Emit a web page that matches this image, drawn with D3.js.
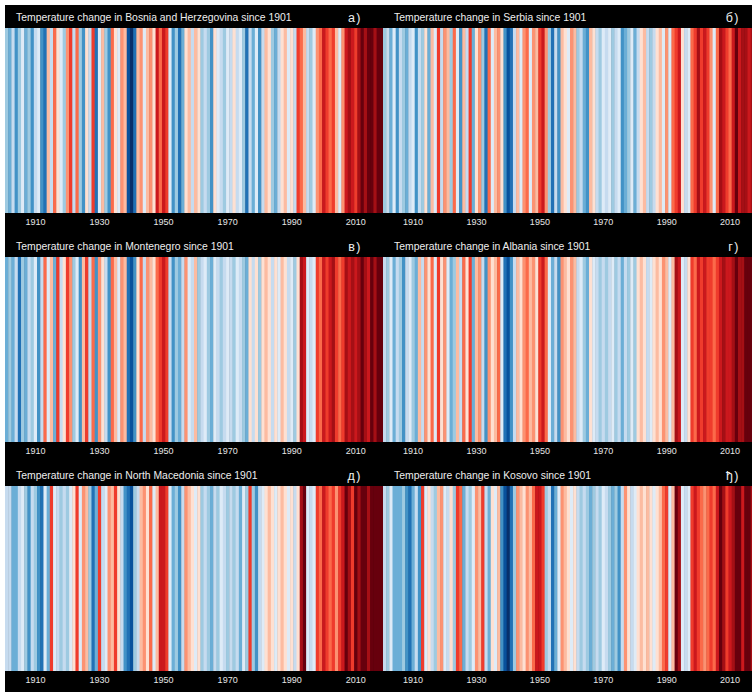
<!DOCTYPE html>
<html>
<head>
<meta charset="utf-8">
<script src="https://cdn.jsdelivr.net/npm/d3@7"></script>
<style>
  body { margin: 0; background: #fff; }
  svg { display: block; }
</style>
</head>
<body>
<div id="stripes"></div>
<script>
// years shown in every panel
const years = d3.range(1901, 2019);
const tickYears = [1910, 1930, 1950, 1970, 1990, 2010];

const countries = ["Bosnia and Herzegovina", "Serbia", "Montenegro", "Albania", "North Macedonia", "Kosovo"];
const letters = ["а)", "б)", "в)", "г)", "д)", "ђ)"];

// classic warming-stripes palette (cold -> warm)
const stripeColors = ["#08306b", "#08519c", "#2171b5", "#4292c6", "#6baed6", "#9ecae1", "#c6dbef", "#deebf7",
                      "#fee0d2", "#fcbba1", "#fc9272", "#fb6a4a", "#ef3b2c", "#cb181d", "#a50f15", "#67000d"];

// annual temperature anomaly (°C), 1901-2018
const bosnia = [
  -0.5,-0.7,-0.3,-0.9,-0.5,-0.1,-0.7,-0.5,-0.9,-0.3,
  -0.1,-0.9,-1.1, 0.3,-0.3, 0.7, 0.1,-0.1,-0.5, 0.5,
   0.9,-0.3, 0.7,-0.5,-0.9, 0.1,-0.3, 0.9,-1.1,-0.1,
   0.3,-0.5,-0.9, 0.7, 0.1,-0.1, 0.5, 0.3,-1.3,-1.5,
  -1.1, 0.3, 0.5,-0.1, 0.3, 0.5, 0.1, 1.1, 0.7, 1.1,
   0.9,-0.1,-0.9,-0.5,-1.1,-0.7, 0.1, 0.3,-0.3, 0.3,
   0.1,-0.5,-0.3,-0.5,-0.9, 0.1,-0.1,-0.3,-0.5,-0.1,
  -0.3, 0.1,-0.3,-0.1,-0.5,-1.1,-0.3,-0.7,-0.1,-0.9,
  -0.3, 0.3, 0.1,-0.5,-0.7,-0.3, 0.1, 0.3,-0.1, 0.1,
  -0.3, 0.9, 0.7, 0.3,-0.3,-0.5,-0.1, 0.5, 0.7, 1.1,
   0.9, 0.7, 0.9, 0.3,-0.1, 0.5, 1.1, 1.3, 1.1, 0.9,
   1.3, 1.5, 1.3, 1.5, 1.5, 1.3, 1.5, 1.5];

const serbia = [
  -0.5,-0.3,-0.7,-0.1,-0.9,-0.3,-0.5,-0.7,-0.3,-0.1,
  -0.9,-0.3,-0.5, 0.1,-0.7, 0.3,-0.1, 0.9,-0.3, 0.5,
   0.3,-0.5, 0.7,-0.1,-0.9, 0.3,-0.3, 0.9,-0.7, 0.1,
   0.5,-0.5,-1.1, 0.7,-0.1, 0.3, 0.5, 0.1,-0.9,-1.3,
  -1.1,-0.3, 0.3,-0.1, 0.5, 0.7,-0.1, 0.5, 0.3, 0.9,
   1.1, 0.5,-0.5,-1.1,-0.3,-0.9, 0.3, 0.1,-0.1, 0.5,
   0.3,-0.5,-0.3,-0.7,-0.9, 0.3, 0.1,-0.3,-0.5,-0.1,
  -0.3,-0.1,-0.5,-0.3,-0.1,-0.9,-0.7,-0.5,-0.1,-0.7,
  -0.3, 0.1, 0.3,-0.3,-0.5,-0.3, 0.1, 0.3,-0.1, 0.5,
  -0.1, 0.7, 0.9, 1.1, 0.1,-0.3,-0.1, 0.7, 0.9, 1.3,
   0.9, 1.1, 0.9, 0.5,-0.1, 0.7, 1.3, 1.1, 0.9, 0.7,
   1.1, 1.5, 1.1, 1.3, 1.3, 1.1, 1.3, 1.5];

const montenegro = [
  -0.7,-0.5,-0.7,-0.3,-1.1,-0.5,-0.7,-0.3,-0.5,-0.1,
  -0.9,-0.3, 0.7,-0.1, 0.3,-0.7, 0.9,-0.3, 0.1, 0.9,
   0.5,-0.5,-0.1,-0.9, 0.3, 0.9,-0.3, 0.7,-0.9, 0.5,
   0.1,-0.3,-0.9, 0.7, 0.3,-0.1, 0.5, 0.3,-1.1,-1.3,
  -0.9, 0.1, 0.7,-0.3, 0.5, 0.3, 0.1, 0.7, 0.9, 1.1,
   0.9,-0.3,-0.9,-0.5,-0.7,-0.3, 0.5,-0.1,-0.3, 0.3,
  -0.5,-0.3,-0.1,-0.5,-0.7,-0.1,-0.3,-0.5,-0.3,-0.1,
  -0.3,-0.5,-0.1,-0.3,-0.5,-0.7, 0.1,-0.3, 0.1,-0.5,
   0.1, 0.3, 0.1,-0.3, 0.1,-0.1, 0.3, 0.1,-0.3,-0.1,
  -0.5, 0.1, 1.3, 1.1,-0.1,-0.3,-0.1, 0.9, 0.7, 1.1,
   0.9, 1.1, 1.3, 0.9, 0.7, 0.9, 1.3, 1.1, 1.3, 1.1,
   1.3, 1.5, 1.3, 1.1, 1.5, 1.3, 1.5, 1.5];

const albania = [
  -0.3,-0.5,-0.1,-0.7,-0.3,-0.5,-0.9,-0.3,-0.1,-0.5,
  -0.7, 0.3,-0.3, 0.5, 0.1, 0.7,-0.1, 0.9, 0.1, 0.5,
  -0.1,-0.7,-0.5, 0.3,-0.3, 0.7, 0.1, 0.9,-0.7, 0.3,
   0.5,-0.3,-0.9, 0.5, 0.1, 0.3, 0.7,-0.1,-1.1,-1.3,
  -0.9,-0.3, 0.3, 0.1, 0.5, 0.7, 0.3, 0.5, 0.1, 0.9,
   1.1, 0.7,-0.1,-0.7,-0.3,-0.9, 0.5, 0.3, 0.1, 0.5,
   0.3,-0.3,-0.1,-0.5,-0.7, 0.1,-0.1,-0.3,-0.5,-0.3,
  -0.5,-0.3,-0.1,-0.5,-0.3,-0.7,-0.3,-0.5,-0.1,-0.5,
   0.1, 0.3, 0.1,-0.3,-0.1, 0.1, 0.3, 0.1, 0.5, 0.3,
  -0.1, 0.3, 1.3, 1.1,-0.1,-0.3, 0.1, 0.9, 0.7, 1.1,
   0.9, 1.1, 0.9, 0.9, 0.7, 0.9, 1.1, 1.3, 1.1, 1.1,
   1.3, 1.5, 1.3, 1.3, 1.5, 1.5, 1.5, 1.5];

const macedonia = [
  -0.3,-0.3,-0.7,-0.7,-0.3,-0.1,-0.5,-0.9,-0.3,-0.5,
  -0.9,-1.1,-0.1,-0.7, 0.9,-0.1,-0.3,-0.5,-0.3,-0.5,
  -0.1, 0.1, 0.9,-0.1, 0.5, 0.3,-0.5,-1.1,-0.7, 0.9,
  -0.3,-0.1, 0.5, 0.3, 0.9, 0.1,-0.3,-0.9,-1.1,-1.3,
  -0.5,-0.3, 0.3, 0.5, 0.1, 0.7,-0.1, 0.3, 1.1, 1.1,
   0.9,-0.1,-0.7,-0.5,-0.9,-0.3, 0.5, 0.3, 0.1,-0.1,
   0.1,-0.5,-0.3,-0.5,-0.7,-0.3,-0.5,-0.1,-0.3,-0.5,
  -0.3,-0.5,-0.3,-0.7,-0.1,-0.5, 0.9,-0.5,-0.9,-0.3,
  -0.1, 0.1, 0.3, 0.1,-0.1, 0.1, 0.3, 0.1,-0.1, 0.1,
  -0.3, 0.1, 1.3, 1.5,-0.1,-0.3,-0.1, 0.9, 0.7, 1.1,
   0.9, 0.7, 0.9, 0.5, 0.9, 1.1, 1.5, 1.3, 0.9, 1.5,
   1.3, 1.5, 1.5, 1.3, 1.5, 1.5, 1.5, 1.5];

const kosovo = [
  -0.3,-0.5,-0.1,-0.7,-0.7,-0.7,-0.5,-0.9,-1.1,-0.7,
  -0.3,-0.9, 0.9,-0.1, 0.1,-0.3,-0.5, 0.3, 0.5,-0.1,
  -0.3, 0.1,-0.5, 0.9, 0.7,-0.7,-0.3,-0.5,-0.1, 0.5,
   0.3, 0.9,-0.3,-0.7, 0.1,-0.1, 0.3,-0.9,-1.3,-1.5,
  -1.1,-0.5, 0.5, 0.3, 0.1, 0.5, 0.3, 0.7, 1.1, 1.1,
   0.9,-0.5,-0.3,-1.1,-0.7,-0.1, 0.5, 0.3, 0.1,-0.1,
   0.1,-0.3,-0.5,-0.3,-0.5,-0.7,-0.5,-0.3,-0.5,-0.1,
  -0.3,-0.5,-0.7,-0.5,-0.9,-0.3, 0.5, 0.1,-0.3,-0.1,
   0.1, 0.3, 0.1, 0.3, 0.1,-0.1, 0.1, 0.3, 0.7, 0.9,
  -0.1, 0.3, 1.5, 1.3,-0.1,-0.3,-0.1, 0.9, 1.1, 0.9,
   0.7, 0.5, 0.7, 0.9, 0.7, 1.1, 1.5, 1.3, 0.9, 1.1,
   1.3, 1.5, 1.5, 1.1, 1.5, 1.5, 1.3, 1.5];

const series = [bosnia, serbia, montenegro, albania, macedonia, kosovo];

// layout
const width = 752, height = 692;
const colX = [5, 383], colW = [378, 374];
const rowY = [5, 234, 463];
const titleH = 23, stripeH = 185, tickH = 22;
const font = "'Liberation Sans', Arial, sans-serif";

const svg = d3.select("#stripes").append("svg")
    .attr("width", width)
    .attr("height", height);

// black background for title and tick bars
svg.append("rect")
    .attr("x", colX[0]).attr("y", rowY[0])
    .attr("width", width - colX[0]).attr("height", height - rowY[0])
    .attr("fill", "#000");

const color = d3.scaleQuantize().domain([-1.6, 1.6]).range(stripeColors);

series.forEach(function(vals, i) {
    let x0 = colX[i % 2], w = colW[i % 2];
    let y0 = rowY[Math.floor(i / 2)];

    let x = d3.scaleBand().domain(years).range([x0, x0 + w]);

    let g = svg.append("g");

    g.selectAll("rect.stripe")
        .data(years)
        .enter().append("rect")
        .attr("class", "stripe")
        .attr("x", d => x(d))
        .attr("y", y0 + titleH)
        .attr("width", x.bandwidth() + 0.5)
        .attr("height", stripeH)
        .attr("fill", (d, k) => color(vals[k]));

    // title
    g.append("text")
        .attr("x", x0 + 11)
        .attr("y", y0 + 16)
        .style("font-family", font)
        .style("font-size", "10.4px")
        .style("fill", "#eeeeee")
        .text("Temperature change in " + countries[i] + " since 1901");

    g.append("text")
        .attr("x", x0 + 357)
        .attr("y", y0 + 17)
        .attr("text-anchor", "end")
        .style("font-family", font)
        .style("font-size", "12.5px")
        .style("letter-spacing", "1.5px")
        .style("fill", "#eeeeee")
        .text(letters[i]);

    // year axis
    let axis = d3.axisBottom(x).tickValues(tickYears).tickSize(0).tickPadding(6);
    let ax = g.append("g")
        .attr("transform", `translate(0,${y0 + titleH + stripeH})`)
        .call(axis);
    ax.select(".domain").remove();
    ax.selectAll("text")
        .style("font-family", font)
        .style("font-size", "9px")
        .style("fill", "#e6e6e6");
});
</script>
</body>
</html>
